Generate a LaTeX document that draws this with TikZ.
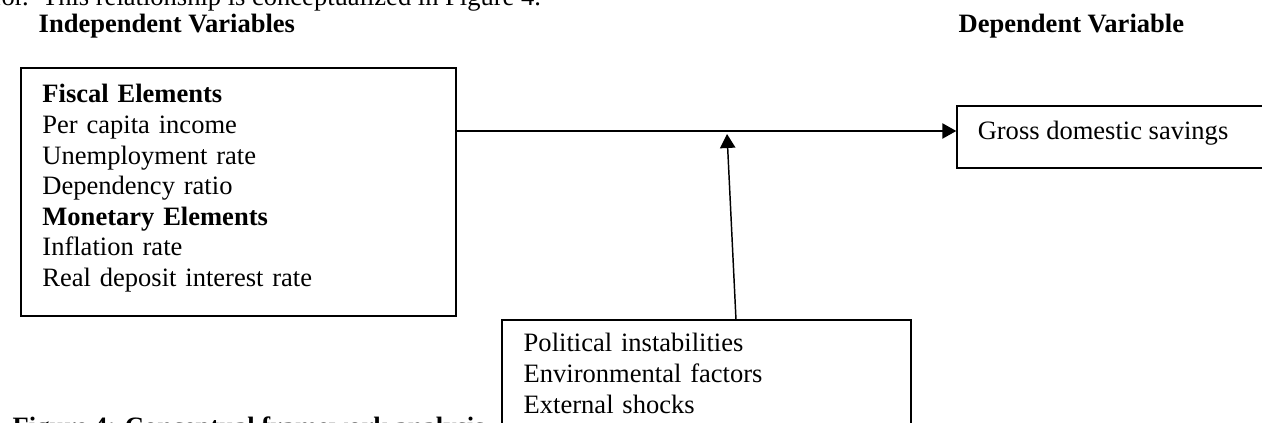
\documentclass[tikz,border=0pt]{standalone}
\usepackage{fontspec}
\setmainfont{Liberation Serif}
\usetikzlibrary{arrows.meta,positioning}

\tikzset{every picture/.style={line width=1.1pt}}
\tikzset{
  varbox/.style={draw, rectangle, inner sep=0pt},
  vartext/.style={anchor=base west, inner sep=0pt, align=left, text width=320pt, font=\fontsize{19.9}{22.9}\selectfont},
  plaintext/.style={anchor=base west, inner sep=0pt, font=\fontsize{19.9}{22.9}\selectfont},
  heading/.style={plaintext, font=\fontsize{19.9}{22.9}\selectfont\bfseries},
  link/.style={-{Triangle[length=10.5pt,width=11.5pt]}}
}

\begin{document}
\begin{tikzpicture}[x=0.75pt,y=0.75pt,yscale=-1,xscale=1]
\useasboundingbox (0,0) rectangle (1262,423);

%Shape: Rectangle [fiscal and monetary box]
\node [varbox, minimum width=326.25pt, minimum height=186pt] (fiscal) at (238.5,192) {};
%Shape: Rectangle [savings box]
\node [varbox, minimum width=230.25pt, minimum height=46.5pt] (gds) at (1110.5,137) {};
%Shape: Rectangle [moderating box]
\node [varbox, minimum width=306.75pt, minimum height=97.5pt] (shocks) at (706.5,385) {};

% Text Node
\node [plaintext] (lead) at (-8,6) {for.\ \ This relationship is conceptualized in Figure 4.};
% Text Node
\node [heading] (indep) at (38,33) {Independent Variables};
% Text Node
\node [heading] (dep) at (958,33) {Dependent Variable};
% Text Node
\node [vartext] (fiscaltext) at (41.7,103) {\textbf{Fiscal Elements}\\ Per capita income\\ Unemployment rate\\ Dependency ratio\\ \textbf{Monetary Elements}\\ Inflation rate\\ Real deposit interest rate};
% Text Node
\node [plaintext] (gdstext) at (977,140) {Gross domestic savings};
% Text Node
\node [vartext] (shockstext) at (523,352) {Political instabilities\\ Environmental factors\\ External shocks};
% Text Node
\node [heading] (caption) at (12,435) {Figure 4: Conceptual framework analysis};

\coordinate (row) at (0,131);
\coordinate (meet) at (727,134);

%Straight Lines [main effect]
\draw [link] (fiscal.east |- row) -- (gds.west |- row);
%Straight Lines [moderating effect]
\draw [link] ([xshift=22.1pt]shocks.north) -- (meet);

\end{tikzpicture}
\end{document}
